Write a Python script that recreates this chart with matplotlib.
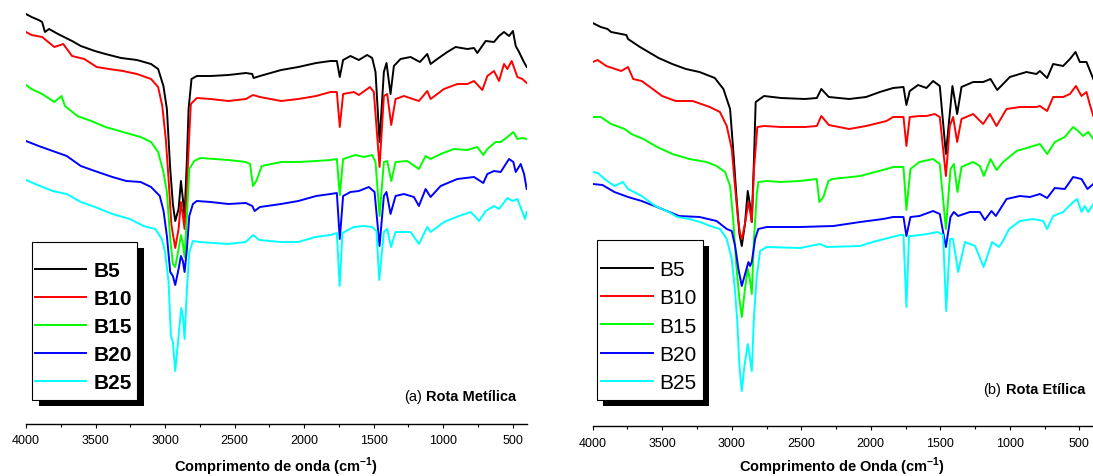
import matplotlib
matplotlib.use('Agg')
import matplotlib.pyplot as plt
from matplotlib.patches import Rectangle
from matplotlib.ticker import MultipleLocator

plt.rcParams['font.family'] = ['Liberation Sans', 'DejaVu Sans']
plt.rcParams['mathtext.fontset'] = 'custom'
plt.rcParams['mathtext.rm'] = 'Liberation Sans'
plt.rcParams['mathtext.bf'] = 'Liberation Sans:bold'

labels = ['B5', 'B10', 'B15', 'B20', 'B25']
colors = ['#000000', '#ff0000', '#00ff00', '#0000ff', '#00ffff']

# (numero de onda cm-1, transmitancia u.a. com deslocamento) -- rota metilica
met_b5 = [(4000, 415), (3960, 412), (3909, 409), (3884, 407), (3864, 397), (3834, 400), (3770, 395),
          (3669, 388), (3606, 383), (3505, 378), (3429, 375), (3316, 371), (3202, 369), (3101, 365),
          (3050, 360), (3012, 343), (2987, 320), (2963, 260), (2944, 225), (2927, 208), (2903, 220),
          (2886, 248), (2872, 230), (2860, 212), (2843, 270), (2831, 320), (2810, 350), (2772, 353),
          (2672, 353), (2545, 354), (2419, 356), (2373, 355), (2364, 351), (2318, 353), (2166, 359),
          (2042, 362), (1914, 366), (1811, 368), (1765, 368), (1744, 352), (1720, 369), (1667, 373),
          (1607, 369), (1547, 374), (1511, 371), (1487, 357), (1458, 287), (1427, 357), (1408, 366),
          (1379, 335), (1355, 363), (1307, 370), (1235, 372), (1168, 367), (1115, 375), (1091, 365),
          (1043, 370), (971, 377), (911, 382), (827, 380), (779, 381), (755, 376), (695, 388),
          (635, 387), (599, 393), (563, 397), (527, 393), (499, 398), (479, 383), (455, 377),
          (424, 368), (400, 362)]
met_b10 = [(4000, 397), (3960, 394), (3884, 392), (3796, 382), (3732, 385), (3669, 373), (3581, 370),
           (3492, 362), (3404, 360), (3303, 358), (3202, 355), (3101, 350), (3050, 342), (3020, 323),
           (2995, 290), (2975, 250), (2955, 205), (2944, 195), (2927, 181), (2903, 200), (2886, 227),
           (2872, 213), (2860, 200), (2843, 240), (2831, 280), (2815, 325), (2772, 331), (2672, 330),
           (2545, 328), (2419, 330), (2368, 334), (2318, 332), (2166, 328), (2042, 330), (1914, 333),
           (1811, 337), (1765, 337), (1744, 302), (1720, 335), (1643, 337), (1607, 334), (1527, 342),
           (1499, 337), (1458, 262), (1427, 333), (1403, 335), (1374, 304), (1343, 330), (1283, 333),
           (1175, 328), (1115, 338), (1091, 330), (995, 340), (899, 345), (827, 345), (779, 348),
           (719, 339), (683, 353), (635, 358), (599, 348), (563, 365), (539, 360), (508, 368),
           (467, 352), (431, 350), (400, 346)]
met_b15 = [(4000, 344), (3960, 340), (3884, 335), (3796, 327), (3745, 333), (3720, 323), (3631, 313),
           (3531, 308), (3429, 302), (3303, 297), (3176, 292), (3101, 287), (3050, 277), (3012, 257),
           (2987, 237), (2963, 190), (2944, 165), (2927, 162), (2903, 180), (2886, 194), (2872, 185),
           (2860, 172), (2843, 213), (2826, 260), (2791, 268), (2747, 271), (2545, 269), (2419, 267),
           (2389, 265), (2368, 243), (2344, 248), (2305, 263), (2166, 267), (2042, 267), (1914, 268),
           (1811, 269), (1765, 270), (1744, 234), (1720, 270), (1631, 274), (1571, 272), (1511, 274),
           (1487, 267), (1458, 213), (1427, 267), (1403, 268), (1374, 248), (1343, 267), (1259, 268),
           (1175, 260), (1127, 273), (1091, 270), (1019, 275), (923, 280), (827, 279), (755, 282),
           (712, 274), (683, 280), (623, 287), (587, 287), (539, 292), (496, 297), (467, 290),
           (431, 291), (400, 290)]
met_b20 = [(4000, 288), (3909, 283), (3808, 278), (3707, 273), (3606, 263), (3505, 258), (3379, 252),
           (3278, 248), (3176, 247), (3101, 242), (3038, 233), (3011, 218), (2987, 193), (2963, 157),
           (2944, 153), (2927, 144), (2903, 160), (2886, 173), (2872, 168), (2860, 157), (2843, 180),
           (2826, 213), (2800, 225), (2772, 228), (2672, 227), (2545, 225), (2419, 226), (2373, 223),
           (2356, 218), (2318, 222), (2166, 225), (2042, 228), (1914, 233), (1811, 235), (1765, 236),
           (1744, 190), (1720, 233), (1667, 237), (1607, 238), (1535, 242), (1494, 237), (1458, 183),
           (1427, 233), (1408, 237), (1379, 215), (1343, 233), (1283, 235), (1211, 232), (1175, 223),
           (1127, 240), (1091, 232), (1019, 243), (899, 250), (779, 252), (712, 246), (683, 255),
           (635, 258), (587, 257), (527, 270), (496, 267), (479, 257), (443, 265), (419, 255),
           (400, 240)]
met_b25 = [(4000, 249), (3934, 245), (3808, 238), (3707, 235), (3606, 227), (3505, 222), (3379, 215),
           (3253, 210), (3155, 203), (3071, 200), (3023, 190), (3000, 177), (2975, 147), (2958, 93),
           (2944, 87), (2927, 58), (2903, 93), (2884, 121), (2872, 113), (2860, 90), (2843, 140),
           (2826, 177), (2800, 188), (2751, 187), (2548, 185), (2421, 187), (2367, 194), (2322, 189),
           (2171, 187), (2044, 187), (1919, 192), (1811, 194), (1765, 196), (1745, 143), (1725, 196),
           (1643, 202), (1571, 203), (1511, 202), (1480, 198), (1460, 149), (1427, 197), (1403, 200),
           (1376, 182), (1343, 197), (1235, 197), (1175, 185), (1115, 202), (1091, 197), (995, 207),
           (887, 213), (803, 217), (767, 212), (743, 208), (695, 218), (635, 223), (599, 220),
           (539, 231), (503, 228), (467, 230), (431, 217), (412, 210), (400, 217)]

# rota etilica
eti_b5 = [(4000, 406), (3942, 402), (3893, 400), (3868, 397), (3758, 394), (3746, 390), (3660, 382),
          (3599, 377), (3526, 371), (3428, 365), (3330, 360), (3232, 357), (3122, 351), (3060, 340),
          (3012, 320), (2990, 280), (2965, 230), (2945, 195), (2928, 183), (2905, 205), (2885, 238),
          (2870, 225), (2856, 207), (2840, 270), (2828, 327), (2768, 333), (2645, 331), (2473, 330),
          (2388, 331), (2356, 340), (2302, 332), (2156, 330), (2034, 332), (1935, 337), (1840, 341),
          (1765, 342), (1744, 324), (1720, 338), (1660, 344), (1600, 341), (1552, 348), (1504, 343),
          (1460, 275), (1413, 343), (1379, 315), (1348, 342), (1264, 347), (1192, 347), (1139, 350),
          (1091, 339), (1000, 352), (881, 357), (809, 355), (784, 358), (732, 351), (689, 365),
          (617, 363), (568, 370), (528, 377), (497, 367), (449, 367), (400, 350)]
eti_b10 = [(4000, 367), (3965, 369), (3902, 363), (3795, 358), (3746, 362), (3709, 350), (3648, 348),
           (3588, 342), (3501, 333), (3404, 328), (3281, 328), (3158, 322), (3085, 317), (3036, 303),
           (3000, 280), (2975, 240), (2955, 210), (2940, 195), (2928, 190), (2905, 205), (2880, 227),
           (2868, 218), (2856, 207), (2840, 260), (2816, 302), (2768, 303), (2645, 302), (2473, 302),
           (2388, 303), (2356, 313), (2302, 304), (2156, 300), (2034, 303), (1887, 308), (1840, 312),
           (1765, 312), (1744, 283), (1720, 312), (1650, 313), (1600, 313), (1540, 315), (1504, 312),
           (1460, 253), (1432, 303), (1408, 312), (1379, 287), (1348, 310), (1264, 315), (1192, 305),
           (1144, 315), (1096, 303), (1024, 320), (928, 322), (809, 322), (784, 323), (732, 318),
           (689, 332), (617, 332), (568, 335), (525, 343), (485, 333), (449, 337), (430, 327),
           (400, 313)]
eti_b15 = [(4000, 312), (3942, 312), (3868, 305), (3770, 300), (3722, 295), (3636, 290), (3550, 283),
           (3428, 275), (3305, 270), (3183, 267), (3109, 263), (3048, 257), (3012, 243), (2990, 210),
           (2965, 160), (2945, 130), (2928, 112), (2905, 140), (2885, 160), (2870, 150), (2856, 135),
           (2840, 190), (2820, 235), (2809, 247), (2748, 248), (2652, 247), (2509, 248), (2389, 250),
           (2370, 227), (2341, 232), (2305, 248), (2278, 250), (2077, 253), (1887, 260), (1840, 262),
           (1765, 262), (1744, 219), (1715, 260), (1650, 267), (1552, 270), (1504, 265), (1460, 200),
           (1427, 260), (1403, 265), (1377, 237), (1348, 262), (1264, 267), (1216, 263), (1187, 253),
           (1139, 270), (1096, 259), (1048, 267), (952, 278), (832, 283), (784, 285), (732, 275),
           (677, 287), (605, 292), (545, 302), (509, 298), (473, 293), (437, 297), (400, 290)]
eti_b20 = [(4000, 245), (3930, 244), (3844, 237), (3746, 232), (3648, 228), (3501, 220), (3379, 213),
           (3232, 212), (3109, 208), (3036, 200), (3000, 198), (2976, 183), (2952, 160), (2928, 143),
           (2904, 155), (2880, 167), (2868, 163), (2856, 167), (2832, 190), (2809, 200), (2748, 202),
           (2509, 202), (2269, 203), (2173, 205), (2077, 207), (1912, 210), (1840, 212), (1765, 212),
           (1744, 193), (1715, 212), (1650, 213), (1552, 218), (1504, 215), (1460, 182), (1427, 212),
           (1403, 217), (1372, 213), (1288, 217), (1216, 217), (1180, 209), (1132, 218), (1101, 213),
           (1024, 230), (928, 233), (856, 232), (784, 235), (732, 231), (677, 241), (605, 240),
           (545, 252), (485, 250), (442, 240), (400, 245)]
eti_b25 = [(4000, 257), (3963, 256), (3915, 250), (3844, 243), (3783, 247), (3746, 240), (3648, 233),
           (3550, 223), (3453, 217), (3391, 212), (3305, 210), (3228, 207), (3156, 203), (3084, 200),
           (3036, 190), (3000, 170), (2976, 137), (2960, 107), (2945, 63), (2928, 38), (2909, 63),
           (2885, 85), (2871, 73), (2856, 58), (2840, 113), (2820, 153), (2796, 178), (2748, 182),
           (2509, 181), (2365, 185), (2317, 182), (2077, 183), (2033, 185), (1960, 188), (1789, 194),
           (1765, 194), (1744, 122), (1725, 193), (1703, 193), (1593, 195), (1519, 197), (1480, 194),
           (1458, 118), (1430, 190), (1409, 190), (1372, 157), (1323, 187), (1250, 183), (1189, 162),
           (1128, 187), (1079, 182), (1054, 187), (1005, 200), (928, 208), (832, 210), (760, 208),
           (732, 200), (689, 213), (617, 217), (545, 227), (516, 230), (485, 217), (461, 223),
           (437, 217), (400, 225)]

W, H = 1093, 477
fig = plt.figure(figsize=(W / 100, H / 100), dpi=100)


def px_axes(x0, x1, y1):
    # eixo ocupando do topo da figura ate a linha do eixo x (em pixels)
    return fig.add_axes([x0 / W, 1 - y1 / H, (x1 - x0) / W, y1 / H])


def px_rect(x0, y0, x1, y1, **kw):
    fig.add_artist(Rectangle((x0 / W, 1 - y1 / H), (x1 - x0) / W, (y1 - y0) / H,
                             transform=fig.transFigure, **kw))


def panel(ax, series, ylo, xlabel, lab_xy):
    lines = []
    for s, c, lab in zip(series, colors, labels):
        wn, t = zip(*s)
        ln, = ax.plot(wn, t, color=c, lw=1.4, label=lab)
        lines.append(ln)
    ax.set_xlim(4000, 400)
    ax.set_ylim(ylo, 430)
    for sp in ['left', 'right', 'top']:
        ax.spines[sp].set_visible(False)
    ax.spines['bottom'].set_linewidth(1.0)
    ax.set_yticks([])
    ax.xaxis.set_major_locator(MultipleLocator(500))
    ax.xaxis.set_minor_locator(MultipleLocator(250))
    ax.tick_params(axis='x', which='major', length=3, width=0.8, pad=4.4, labelsize=9)
    ax.tick_params(axis='x', which='minor', length=1.8, width=0.8)
    ax.set_xlabel(xlabel, fontsize=10.5, fontweight='bold', va='baseline')
    ax.xaxis.set_label_coords(*lab_xy)
    ax.patch.set_visible(False)
    return lines


ax1 = px_axes(26, 526.7, 424.7)
lines1 = panel(ax1, [met_b5, met_b10, met_b15, met_b20, met_b25], 5.3,
               r'Comprimento de onda (cm$^{\mathbf{-1}}$)', (0.4989, -0.1107))
ax2 = px_axes(592.7, 1093.3, 427.3)
lines2 = panel(ax2, [eti_b5, eti_b10, eti_b15, eti_b20, eti_b25], 2.7,
               r'Comprimento de Onda (cm$^{\mathbf{-1}}$)', (0.499, -0.1055))

# legendas com sombra
px_rect(38.5, 249.3, 143.6, 407.3, facecolor='black', edgecolor='none')
px_rect(31.5, 242.7, 136.6, 400.7, facecolor='white', edgecolor='black', lw=0.8)
fig.legend(lines1, labels, loc='upper left', bbox_to_anchor=(35 / W, 1 - 261.8 / H),
           frameon=False, borderpad=0, borderaxespad=0, handlelength=2.47,
           handletextpad=0.35, labelspacing=0.44, prop={'size': 15, 'weight': 'bold'})

px_rect(602.7, 246.7, 708.7, 406.7, facecolor='black', edgecolor='none')
px_rect(596.7, 240.7, 702.6, 400.7, facecolor='white', edgecolor='black', lw=0.8)
fig.legend(lines2, labels, loc='upper left', bbox_to_anchor=(600.7 / W, 1 - 260.8 / H),
           frameon=False, borderpad=0, borderaxespad=0, handlelength=2.5,
           handletextpad=0.3, labelspacing=0.45, prop={'size': 15})

t1 = fig.text(516.5 / W, 1 - 400.7 / H, 'Rota Metílica', ha='right', va='baseline',
              fontsize=10.5, fontweight='bold')
fig.add_artist(plt.Annotation('(a)', xy=(0, 0), xycoords=t1, xytext=(-3.5, 0),
                              textcoords='offset points', ha='right', va='bottom', fontsize=10.5))
t2 = fig.text(1085.6 / W, 1 - 394 / H, 'Rota Etílica', ha='right', va='baseline',
              fontsize=10.5, fontweight='bold')
fig.add_artist(plt.Annotation('(b)', xy=(0, 0), xycoords=t2, xytext=(-3.5, 0),
                              textcoords='offset points', ha='right', va='bottom', fontsize=10.5))

fig.savefig('out.png', dpi=100)
